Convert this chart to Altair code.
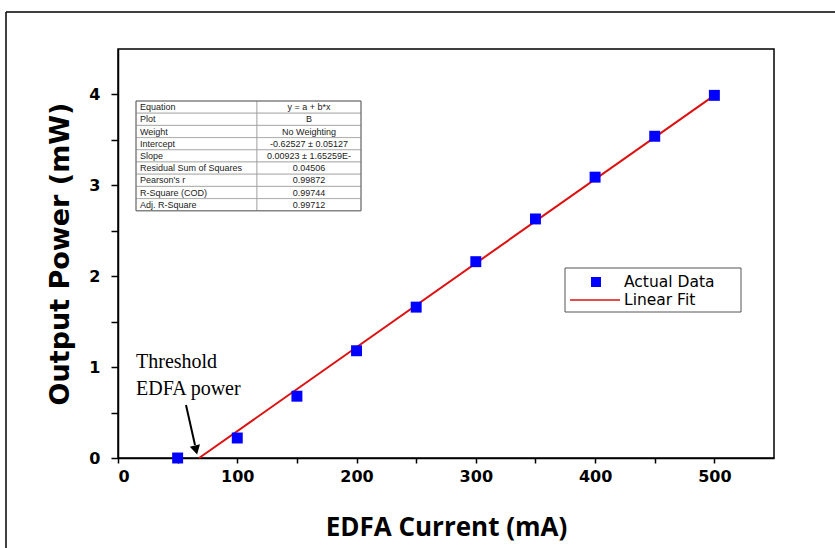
import altair as alt
import pandas as pd

# ---- data ----
current_ma = [50, 100, 150, 200, 250, 300, 350, 400, 450, 500]
power_mw = [0.0, 0.22, 0.68, 1.18, 1.66, 2.16, 2.63, 3.09, 3.54, 3.99]
fit_current = [68, 500]
fit_power = [0.0, 3.99]

table_labels = ["Equation", "Plot", "Weight", "Intercept", "Slope",
                "Residual Sum of Squares", "Pearson's r", "R-Square (COD)", "Adj. R-Square"]
table_values = ["y = a + b*x", "B", "No Weighting", "-0.62527 \u00b1 0.05127",
                "0.00923 \u00b1 1.65259E-", "0.04506", "0.99872", "0.99744", "0.99712"]
legend_labels = ["Actual Data", "Linear Fit"]
x_ticks = [0, 50, 100, 150, 200, 250, 300, 350, 400, 450, 500]
y_ticks = [0, 0.5, 1, 1.5, 2, 2.5, 3, 3.5, 4]

W, H = 656, 409

pts = pd.DataFrame({"x": current_ma, "y": power_mw})
fit = pd.DataFrame({"x": fit_current, "y": fit_power})

xs = alt.Scale(domain=[0, 550], nice=False, zero=False)
ys = alt.Scale(domain=[0, 4.5], nice=False, zero=False)

xaxis = alt.Axis(title="EDFA Current (mA)", values=x_ticks, grid=False,
                 labelExpr="datum.value % 100 == 0 ? format(datum.value, 'd') : ''",
                 tickSize=5, tickColor="black", tickWidth=1.5,
                 domainColor="black", domainWidth=1.5,
                 labelFont="DejaVu Sans", labelFontWeight="bold", labelFontSize=16,
                 labelColor="black", labelPadding=5,
                 titleFont="Open Sans", titleFontWeight="bold", titleFontSize=26,
                 titleColor="black", titlePadding=30)
yaxis = alt.Axis(title="Output Power (mW)", values=y_ticks, grid=False,
                 labelExpr="datum.value % 1 == 0 ? format(datum.value, 'd') : ''",
                 tickSize=7, tickColor="black", tickWidth=1.5,
                 domainColor="black", domainWidth=1.5,
                 labelFont="DejaVu Sans", labelFontWeight="bold", labelFontSize=16,
                 labelColor="black", labelPadding=11,
                 titleFont="DejaVu Sans", titleFontWeight="bold", titleFontSize=27,
                 titleColor="black", titlePadding=14)

points = alt.Chart(pts).mark_square(size=120, color="#0000ff", opacity=1).encode(
    x=alt.X("x:Q", scale=xs, axis=xaxis),
    y=alt.Y("y:Q", scale=ys, axis=yaxis),
)
line = alt.Chart(fit).mark_line(color="#dd1111", strokeWidth=2).encode(
    x=alt.X("x:Q", scale=xs), y=alt.Y("y:Q", scale=ys)
)

# ---- fit-parameter table (pixel layout) ----
t_left, t_mid, t_right, t_top, row_h = 18, 139, 243, 52, 12.2
n = len(table_labels)
tab = pd.DataFrame({"label": table_labels, "value": table_values, "i": range(n)})
tab["y0"] = t_top + tab["i"] * row_h
tab["y1"] = tab["y0"] + row_h
tab["yc"] = tab["y0"] + row_h / 2
tab["xl0"] = t_left
tab["xm"] = t_mid
tab["xr1"] = t_right
tab["xlt"] = t_left + 4
tab["xrc"] = (t_mid + t_right) / 2

cells_l = alt.Chart(tab).mark_rect(fill="white", stroke="#9a9a9a", strokeWidth=0.7).encode(
    x=alt.X("xl0:Q", scale=None), x2="xm:Q",
    y=alt.Y("y0:Q", scale=None), y2="y1:Q")
cells_r = alt.Chart(tab).mark_rect(fill="white", stroke="#9a9a9a", strokeWidth=0.7).encode(
    x=alt.X("xm:Q", scale=None), x2="xr1:Q",
    y=alt.Y("y0:Q", scale=None), y2="y1:Q")
txt_l = alt.Chart(tab).mark_text(align="left", baseline="middle", font="Liberation Sans",
                                 fontSize=9, color="#222").encode(
    x=alt.X("xlt:Q", scale=None), y=alt.Y("yc:Q", scale=None), text="label:N")
txt_r = alt.Chart(tab).mark_text(align="center", baseline="middle", font="Liberation Sans",
                                 fontSize=9, color="#222").encode(
    x=alt.X("xrc:Q", scale=None), y=alt.Y("yc:Q", scale=None), text="value:N")
tab_border = alt.Chart(pd.DataFrame({"a": [0]})).mark_rect(
    fill=None, stroke="#666", strokeWidth=1).encode(
    x=alt.value(t_left), x2=alt.value(t_right),
    y=alt.value(t_top), y2=alt.value(t_top + n * row_h))

# ---- legend (pixel layout) ----
lg = pd.DataFrame({"label": legend_labels, "i": [0, 1]})
lg["yc"] = 233 + lg["i"] * 18
lg["tx"] = 506
leg_box = alt.Chart(pd.DataFrame({"a": [0]})).mark_rect(
    fill="white", stroke="#555", strokeWidth=1).encode(
    x=alt.value(447), x2=alt.value(623), y=alt.value(219), y2=alt.value(263))
leg_sq = alt.Chart(pd.DataFrame({"a": [0]})).mark_square(
    size=100, color="#0000ff", opacity=1).encode(x=alt.value(478), y=alt.value(233))
leg_ln = alt.Chart(pd.DataFrame({"a": [0]})).mark_rule(
    color="#dd1111", strokeWidth=1.5).encode(
    x=alt.value(452), x2=alt.value(502), y=alt.value(251))
leg_txt = alt.Chart(lg).mark_text(align="left", baseline="middle", font="DejaVu Sans",
                                  fontSize=15.5, color="black").encode(
    x=alt.X("tx:Q", scale=None), y=alt.Y("yc:Q", scale=None), text="label:N")

# ---- threshold annotation ----
ann = pd.DataFrame({"t": ["Threshold", "EDFA power"], "yy": [319, 346], "xx": [18, 18]})
ann_txt = alt.Chart(ann).mark_text(align="left", baseline="alphabetic", font="Liberation Serif",
                                   fontSize=20, color="black").encode(
    x=alt.X("xx:Q", scale=None), y=alt.Y("yy:Q", scale=None), text="t:N")
arrow_shaft = alt.Chart(pd.DataFrame({"a": [0]})).mark_rule(
    color="black", strokeWidth=2).encode(
    x=alt.value(68), x2=alt.value(77), y=alt.value(356), y2=alt.value(396))
arrow_head = alt.Chart(pd.DataFrame({"a": [0]})).mark_point(
    shape="triangle-down", filled=True, color="black", size=110, opacity=1,
    angle=346).encode(x=alt.value(78), y=alt.value(401))

# ---- outer frame ----
frame_v = alt.Chart(pd.DataFrame({"a": [0]})).mark_rule(color="black", strokeWidth=1.5).encode(
    x=alt.value(-112), y=alt.value(-37), y2=alt.value(520))
frame_h = alt.Chart(pd.DataFrame({"a": [0]})).mark_rule(color="black", strokeWidth=1.5).encode(
    x=alt.value(-112), x2=alt.value(740), y=alt.value(-37))

chart = alt.layer(
    frame_v, frame_h,
    line, points,
    cells_l, cells_r, tab_border, txt_l, txt_r,
    leg_box, leg_sq, leg_ln, leg_txt,
    ann_txt, arrow_shaft, arrow_head,
).properties(
    width=W, height=H,
    autosize=alt.AutoSizeParams(type="none"),
    padding={"left": 118, "top": 49, "right": 61, "bottom": 90},
    background="white",
).configure_view(stroke="black", strokeWidth=1.5)

chart.save("out.html", embed_options={"renderer": "svg", "actions": False})
